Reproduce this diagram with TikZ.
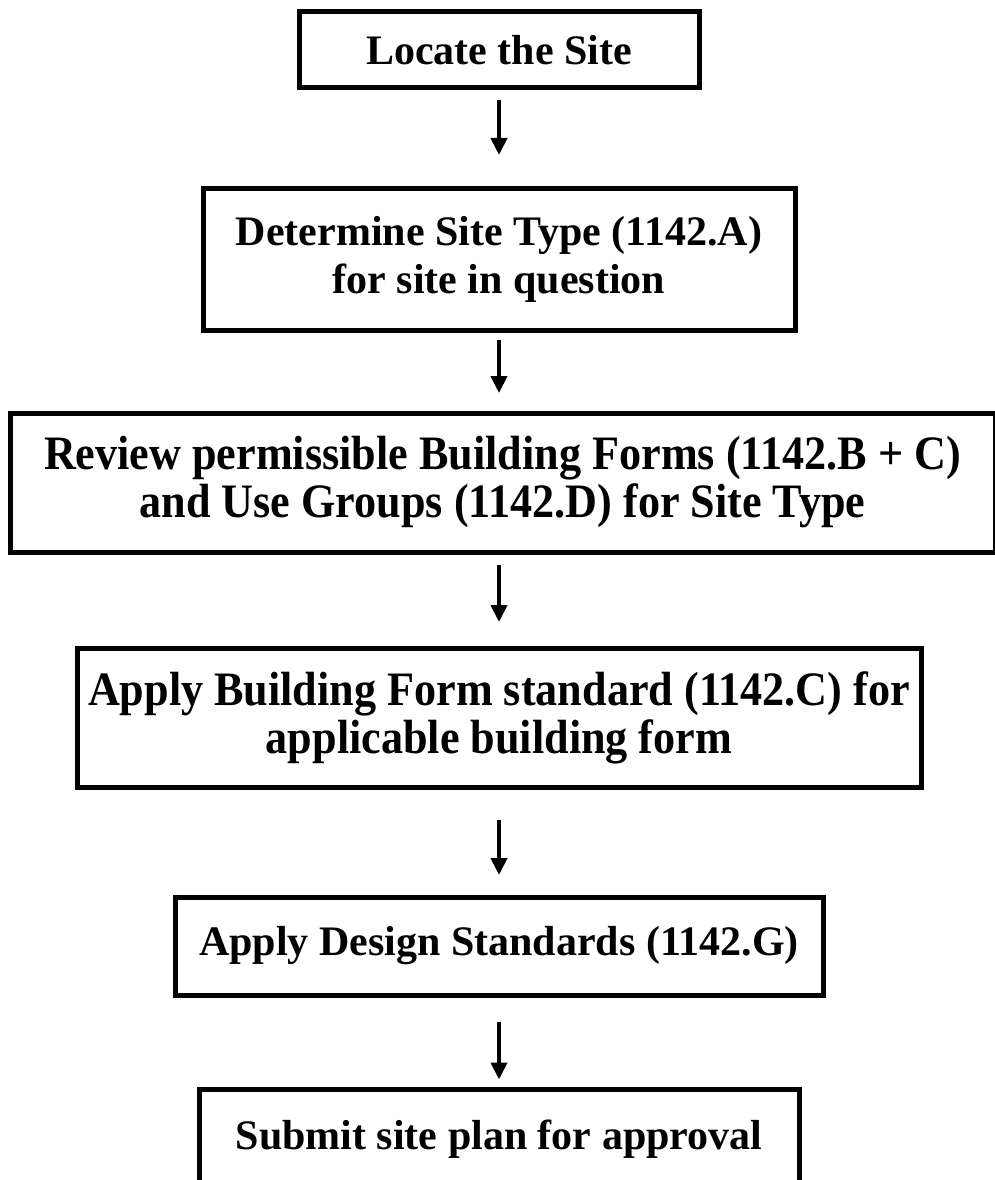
\documentclass[tikz,border=0pt]{standalone}
\usepackage{fontspec}
\setmainfont{Liberation Serif}
\usetikzlibrary{arrows.meta}
\newcommand{\narrowline}[1]{\scalebox{0.92}[1]{#1}}
\begin{document}
\begin{tikzpicture}[x=1pt,y=-1pt,
  box/.style={draw, line width=5pt, inner sep=0pt, align=center,
    font=\fontsize{42}{48}\selectfont\bfseries},
  bigbox/.style={box, font=\fontsize{48}{48}\selectfont\bfseries},
  arr/.style={line width=4pt, -{Triangle[width=16pt,length=17pt]}}]
\clip (0,0) rectangle (995,1180);
\node[box, minimum width=400, minimum height=76] (b1) at (499,50) {Locate the Site};
\node[box, minimum width=592, minimum height=142] (b2) at (499,259) {Determine Site Type (1142.A)\\for site in question};
\node[bigbox, minimum width=985, minimum height=139] (b3) at (502.5,482.5) {\narrowline{Review permissible Building Forms (1142.B + C)}\\\narrowline{and Use Groups (1142.D) for Site Type}};
\node[bigbox, minimum width=844, minimum height=139] (b4) at (499,717.5) {\narrowline{Apply Building Form standard (1142.C) for}\\\narrowline{applicable building form}};
\node[box, minimum width=648, minimum height=98] (b5) at (499,946) {Apply Design Standards (1142.G)};
\node[box, anchor=north, minimum width=600, text height=60, text depth=80] (b6) at (499,1087) {Submit site plan for approval};
\draw[arr, shorten <=9.5pt, shorten >=30.5pt] (b1.south) -- (b2.north);
\draw[arr, shorten <=7.5pt, shorten >=17.5pt] (b2.south) -- (b2.south |- b3.north);
\draw[arr, shorten <=10.5pt, shorten >=23.5pt] (b3.south -| b4.north) -- (b4.north);
\draw[arr, shorten <=30.5pt, shorten >=19.5pt] (b4.south) -- (b5.north);
\draw[arr, shorten <=24.5pt, shorten >=7.5pt] (b5.south) -- (b6.north);
\end{tikzpicture}
\end{document}
